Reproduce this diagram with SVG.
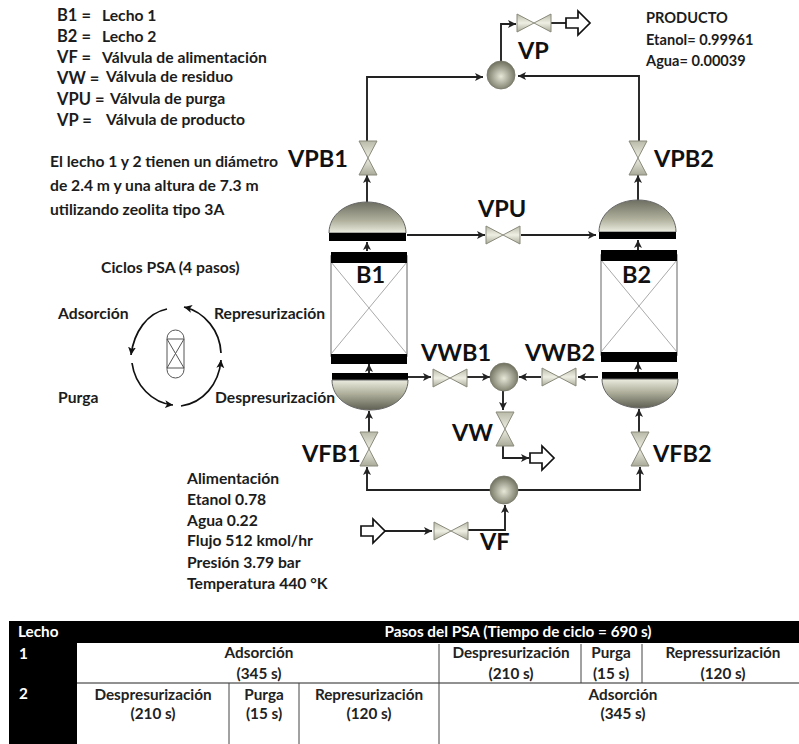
<svg xmlns="http://www.w3.org/2000/svg" width="799" height="744" viewBox="0 0 799 744">
<style>
text{font-family:Lato,"Open Sans","Liberation Sans",sans-serif;font-weight:700;fill:#1c1c1c}
.t{font-size:15.7px}
.p{font-size:14.6px}
.l{font-size:23.5px;fill:#111}
.h{font-size:16.5px}
.tb{font-size:15.3px;text-anchor:middle;fill:#222}
.w{fill:#fff}
.c{fill:none;stroke:#222;stroke-width:1.9;marker-end:url(#a)}
.n{fill:none;stroke:#222;stroke-width:1.9}
.out{fill:#fff;stroke:#111;stroke-width:1.7}
.v{fill:url(#vg);stroke:#8a8a7c;stroke-width:1}
.j{fill:url(#jg);stroke:#77776a;stroke-width:.8}
.bk{fill:#000}
.box{fill:#fff;stroke:#999;stroke-width:1.5}
.x{stroke:#aaa;stroke-width:1}
.cy{fill:none;stroke:#111;stroke-width:1.7;marker-end:url(#b)}
.g{stroke:#555;stroke-width:1;fill:none}
</style>
<defs>
<marker id="a" markerUnits="userSpaceOnUse" markerWidth="10" markerHeight="10" refX="8" refY="4" orient="auto"><path d="M0 0L8 4L0 8L2 4z" fill="#222"/></marker>
<marker id="b" markerUnits="userSpaceOnUse" markerWidth="10" markerHeight="10" refX="8" refY="4" orient="auto"><path d="M0 0L8 4L0 8L2 4z" fill="#111"/></marker>
<linearGradient id="vg" x1="0" y1="0" x2="0" y2="1"><stop offset="0" stop-color="#b9baa8"/><stop offset=".5" stop-color="#eff0e4"/><stop offset="1" stop-color="#a9aa98"/></linearGradient>
<radialGradient id="jg" cx=".5" cy=".55" r=".55"><stop offset="0" stop-color="#e8e8d8"/><stop offset="1" stop-color="#6f6f5e"/></radialGradient>
<linearGradient id="up" x1="0" y1="0" x2="0" y2="1"><stop offset="0" stop-color="#6f6f62"/><stop offset=".6" stop-color="#b0b09d"/><stop offset="1" stop-color="#ecece0"/></linearGradient>
<linearGradient id="dn" x1="0" y1="0" x2="0" y2="1"><stop offset="0" stop-color="#ecece0"/><stop offset=".45" stop-color="#b0b09d"/><stop offset="1" stop-color="#5f5f53"/></linearGradient>
<path id="vh" class="v" d="M-17 -9L0 0L17 -9V9L0 0L-17 9Z"/>
<path id="vv" class="v" d="M-9 -17L0 0L9 -17H-9ZM-9 17L0 0L9 17Z"/>
<path id="oa" class="out" d="M0 -5H12V-12L24 0L12 12V5H0Z"/>
</defs>
<rect width="799" height="744" fill="#fff"/>

<g id="connectors">
<path class="c" d="M501 62V24H516"/>
<path class="n" d="M550 23H566"/>
<path class="c" d="M367 141V77H483"/>
<path class="c" d="M639 141V76H518"/>
<path class="c" d="M367 202V175"/>
<path class="c" d="M638 200V175"/>
<path class="c" d="M367 251V242"/>
<path class="c" d="M638 250V240"/>
<path class="c" d="M407 235H485"/>
<path class="c" d="M521 235H596"/>
<path class="c" d="M408 377H431"/>
<path class="c" d="M466 377H490"/>
<path class="c" d="M598 377H578"/>
<path class="c" d="M541 377H519"/>
<path class="c" d="M503 391V410"/>
<path class="c" d="M503 446V458H529"/>
<path class="c" d="M369 432V411"/>
<path class="c" d="M639 432V409"/>
<path class="c" d="M369 373V364"/>
<path class="c" d="M638 372V362"/>
<path class="c" d="M490 490H367V467"/>
<path class="c" d="M518 490H640V467"/>
<path class="c" d="M384 531H432"/>
<path class="c" d="M468 530H505V505"/>
</g>

<g id="vp"><use href="#vh" x="534" y="23"/></g>
<g id="vp-out"><use href="#oa" x="566" y="23"/></g>
<g id="vp-junction"><circle class="j" cx="501" cy="75" r="14"/></g>
<g id="vpb1"><use href="#vv" x="368" y="158"/></g>
<g id="vpb2"><use href="#vv" x="638" y="158"/></g>
<g id="vpu"><use href="#vh" x="503" y="235"/></g>
<g id="vwb1"><use href="#vh" x="450" y="378"/></g>
<g id="vwb2"><use href="#vh" x="559" y="377"/></g>
<g id="vw-junction"><circle class="j" cx="504" cy="377" r="14"/></g>
<g id="vw"><use href="#vv" x="505" y="429"/></g>
<g id="vw-out"><use href="#oa" x="530" y="458"/></g>
<g id="vfb1"><use href="#vv" x="369" y="449"/></g>
<g id="vfb2"><use href="#vv" x="640" y="449"/></g>
<g id="vf-junction"><circle class="j" cx="504" cy="490" r="14"/></g>
<g id="vf"><use href="#vh" x="451" y="531"/></g>
<g id="vf-in"><use href="#oa" x="361" y="531"/></g>

<g id="b1">
<path d="M329 233C329 215 346 202 367 202S406 215 406 233Z" fill="url(#up)" stroke="#666"/>
<rect class="bk" x="329" y="233" width="77" height="8"/>
<rect class="box" x="331" y="256" width="76" height="100"/>
<path class="x" d="M331 262L407 354M407 262L331 354"/>
<rect class="bk" x="331" y="252" width="76" height="11"/>
<rect class="bk" x="331" y="354" width="76" height="10"/>
<rect class="bk" x="332" y="373" width="76" height="7"/>
<path d="M332 380C332 398 349 410 370 410S408 398 408 380Z" fill="url(#dn)" stroke="#666"/>
</g>
<g id="b2">
<path d="M599 232C599 214 616 200 638 200S676 214 676 232Z" fill="url(#up)" stroke="#666"/>
<rect class="bk" x="599" y="232" width="77" height="7"/>
<rect class="box" x="601" y="255" width="76" height="100"/>
<path class="x" d="M601 260L677 352M677 260L601 352"/>
<rect class="bk" x="601" y="250" width="76" height="11"/>
<rect class="bk" x="601" y="352" width="76" height="10"/>
<rect class="bk" x="602" y="372" width="76" height="7"/>
<path d="M602 379C602 396 619 408 640 408S678 396 678 379Z" fill="url(#dn)" stroke="#666"/>
</g>

<g id="labels">
<text class="l" x="518" y="59">VP</text>
<text class="l" x="288" y="167">VPB1</text>
<text class="l" x="654" y="167">VPB2</text>
<text class="l" x="478" y="217">VPU</text>
<text class="l" x="356" y="283">B1</text>
<text class="l" x="622" y="283">B2</text>
<text class="l" x="421" y="361">VWB1</text>
<text class="l" x="525" y="361">VWB2</text>
<text class="l" x="452" y="441">VW</text>
<text class="l" x="302" y="462">VFB1</text>
<text class="l" x="653" y="462">VFB2</text>
<text class="l" x="480" y="550">VF</text>
</g>

<g id="legend">
<text class="h" x="57" y="21">B1 =</text><text class="t" x="102" y="21">Lecho 1</text>
<text class="h" x="57" y="42">B2 =</text><text class="t" x="102" y="42">Lecho 2</text>
<text class="h" x="57" y="63">VF =</text><text class="t" x="102" y="63">Válvula de alimentación</text>
<text class="h" x="57" y="84">VW =</text><text class="t" x="106" y="82">Válvula de residuo</text>
<text class="h" x="57" y="105">VPU =</text><text class="t" x="110" y="104">Válvula de purga</text>
<text class="h" x="57" y="126">VP =</text><text class="t" x="106" y="125">Válvula de producto</text>
<text class="t" x="50" y="167">El lecho 1 y 2 tienen un diámetro</text>
<text class="t" x="50" y="191">de 2.4 m y una altura de 7.3 m</text>
<text class="t" x="50" y="215">utilizando zeolita tipo 3A</text>
<text class="p" x="646" y="23">PRODUCTO</text>
<text class="p" x="646" y="45">Etanol= 0.99961</text>
<text class="p" x="646" y="66">Agua= 0.00039</text>
<text class="t" x="187" y="484">Alimentación</text>
<text class="t" x="187" y="505">Etanol 0.78</text>
<text class="t" x="187" y="526">Agua 0.22</text>
<text class="t" x="187" y="546">Flujo 512 kmol/hr</text>
<text class="t" x="187" y="568">Presión 3.79 bar</text>
<text class="t" x="187" y="589">Temperatura 440 °K</text>
</g>

<g id="cycle">
<text class="t" x="101" y="273">Ciclos PSA (4 pasos)</text>
<text class="t" x="58" y="319">Adsorción</text>
<text class="t" x="214" y="319">Represurización</text>
<text class="t" x="58" y="403">Purga</text>
<text class="t" x="215" y="403">Despresurización</text>
<path class="cy" d="M167 309C147 313 134 332 131 355"/>
<path class="cy" d="M132 363C135 385 152 403 173 405"/>
<path class="cy" d="M181 406C203 403 219 384 221 360"/>
<path class="cy" d="M221 353C220 331 205 312 184 307"/>
<rect class="g" x="167" y="330" width="17" height="48" rx="8.500"/>
<path class="g" d="M167 339H184M167 368H184M167 339L184 368M184 339L167 368"/>
</g>

<g id="table">
<rect class="bk" x="9" y="621" width="790" height="22"/>
<rect class="bk" x="9" y="621" width="68" height="123"/>
<path d="M77 683H799" stroke="#222" stroke-width="1"/>
<path d="M439 644V744M581 644V683M642 644V683M229 683V744M299 683V744" stroke="#444" stroke-width="1" fill="none"/>
<text class="tb w" style="text-anchor:start" x="18" y="637">Lecho</text>
<text class="tb w" x="518" y="637">Pasos del PSA (Tiempo de ciclo = 690 s)</text>
<text class="tb w" style="text-anchor:start" x="19" y="659">1</text>
<text class="tb w" style="text-anchor:start" x="19" y="699">2</text>
<text class="tb" x="259" y="658">Adsorción</text><text class="tb" x="259" y="679">(345 s)</text>
<text class="tb" x="511" y="658">Despresurización</text><text class="tb" x="511" y="679">(210 s)</text>
<text class="tb" x="611" y="658">Purga</text><text class="tb" x="611" y="679">(15 s)</text>
<text class="tb" x="723" y="658">Repressurización</text><text class="tb" x="723" y="679">(120 s)</text>
<text class="tb" x="153" y="700">Despresurización</text><text class="tb" x="153" y="719">(210 s)</text>
<text class="tb" x="264" y="700">Purga</text><text class="tb" x="264" y="719">(15 s)</text>
<text class="tb" x="369" y="700">Represurización</text><text class="tb" x="369" y="719">(120 s)</text>
<text class="tb" x="623" y="700">Adsorción</text><text class="tb" x="623" y="719">(345 s)</text>
</g>
</svg>
